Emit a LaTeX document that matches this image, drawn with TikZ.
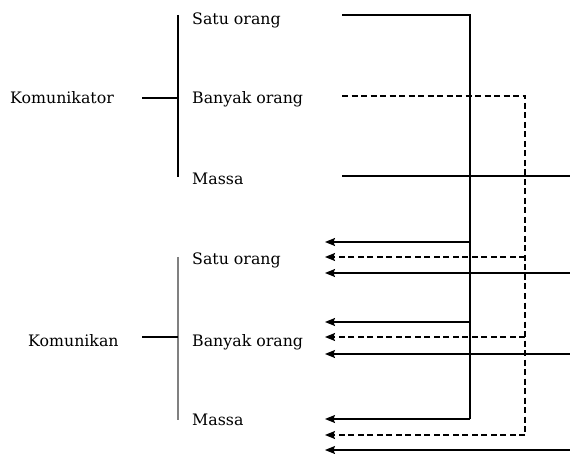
\documentclass[tikz,border=0pt]{standalone}
\usepackage{fontspec}
\setmainfont{DejaVu Serif}
\usetikzlibrary{arrows.meta}
\begin{document}
\begin{tikzpicture}[x=1pt,y=-1pt,
  lbl/.style={anchor=base west,inner sep=0pt,font=\fontsize{15.8}{18}\selectfont},
  ln/.style={line width=1.1pt},
  dsh/.style={ln,dash pattern=on 6pt off 3.5pt},
  arr/.style={-{Stealth[length=10pt,width=8pt,inset=1.5pt]}}]
\useasboundingbox (0,0) rectangle (570,454);
% text nodes
\node[lbl] (komtor) at (10,104) {Komunikator};
\node[lbl] (sa) at (192,25) {Satu orang};
\node[lbl] (ba) at (192,104) {Banyak orang};
\node[lbl] (ma) at (192,185) {Massa};
\node[lbl] (komkan) at (28,346) {Komunikan};
\node[lbl] (sb) at (192,265) {Satu orang};
\node[lbl] (bb) at (192,346) {Banyak orang};
\node[lbl] (mb) at (192,425) {Massa};
% coordinates
\coordinate (ta) at (178,15); \coordinate (tb) at (178,177);
\coordinate (tl) at (142,98); \coordinate (tr) at (178,98);
\coordinate (ba1) at (178,257); \coordinate (ba2) at (178,420);
\coordinate (bl) at (142,337); \coordinate (br) at (178,337);
\coordinate (s0) at (342,15); \coordinate (sv) at (470,15);
\coordinate (d0) at (342,96); \coordinate (dv) at (525,96);
\coordinate (m0) at (342,176); \coordinate (m1) at (570,176);
\foreach \y/\n in {242/1,322/2,419/3} {
  \coordinate (sj\n) at (470,\y); \coordinate (st\n) at (325,\y);}
\foreach \y/\n in {257/1,337/2,435/3} {
  \coordinate (dj\n) at (525,\y); \coordinate (dt\n) at (325,\y);}
\foreach \y/\n in {273/1,354/2,450/3} {
  \coordinate (mj\n) at (570,\y); \coordinate (mt\n) at (325,\y);}
% brackets
\draw[ln] (ta) -- (tb);
\draw[ln] (tl) -- (tr);
\draw[line width=1.6pt,gray] (ba1) -- (ba2);
\draw[ln] (bl) -- (br);
% solid from Satu orang
\draw[ln] (s0) -- (sv) -- (sj3);
\foreach \n in {1,2,3} \draw[ln,arr] (sj\n) -- (st\n);
% dashed from Banyak orang
\draw[dsh] (d0) -- (dv) -- (dj3);
\foreach \n in {1,2,3} \draw[dsh,arr] (dj\n) -- (dt\n);
% massa
\draw[ln] (m0) -- (m1);
\foreach \n in {1,2,3} \draw[ln,arr] (mj\n) -- (mt\n);
\end{tikzpicture}
\end{document}
